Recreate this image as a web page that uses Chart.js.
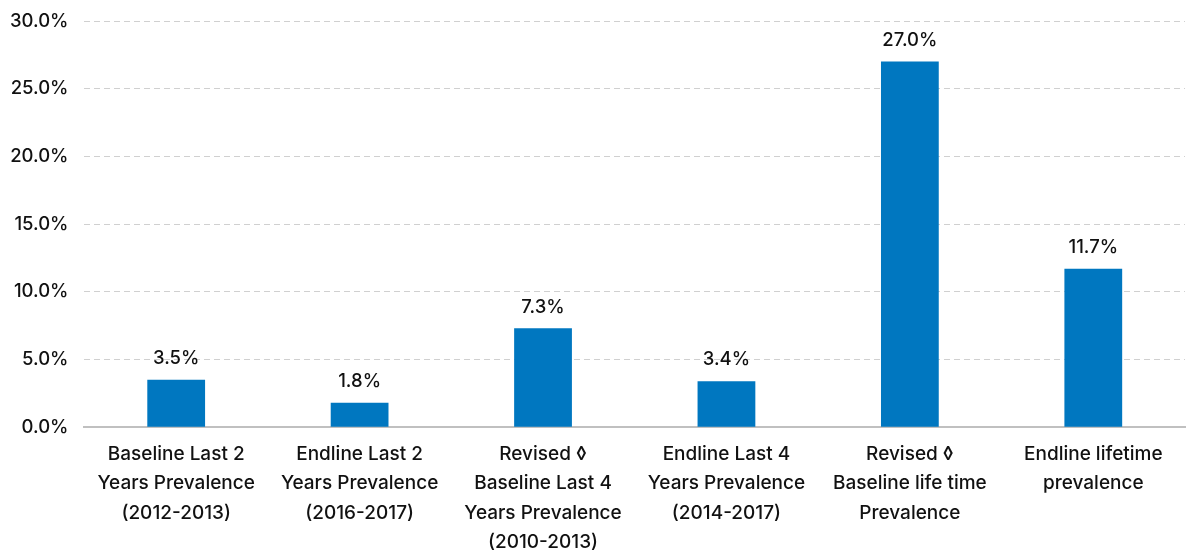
<!DOCTYPE html>
<html>
<head>
<meta charset="utf-8">
<script src="https://cdn.jsdelivr.net/npm/chart.js@4"></script>
<style>
  html, body { margin: 0; padding: 0; background: #fff; }
  #wrap { width: 1193px; height: 555px; }
</style>
</head>
<body>
<div id="wrap"><canvas id="chart"></canvas></div>
<script>
const categories = [
    ['Baseline Last 2', 'Years Prevalence', '(2012-2013)'],
    ['Endline Last 2', 'Years Prevalence', '(2016-2017)'],
    ['Revised \u25CA', 'Baseline Last 4', 'Years Prevalence', '(2010-2013)'],
    ['Endline Last 4', 'Years Prevalence', '(2014-2017)'],
    ['Revised \u25CA', 'Baseline life time', 'Prevalence'],
    ['Endline lifetime', 'prevalence']
];
const prevalence = [3.5, 1.8, 7.3, 3.4, 27.0, 11.7];
const yTicks = [0, 5, 10, 15, 20, 25, 30];

const FONT = 'Inter, "Open Sans", sans-serif';

// draws the value above each bar
const valueLabels = {
    id: 'valueLabels',
    afterDatasetsDraw(chart) {
        const ctx = chart.ctx;
        const meta = chart.getDatasetMeta(0);
        ctx.save();
        ctx.font = '500 18.5px ' + FONT;
        ctx.fillStyle = '#111';
        ctx.textAlign = 'center';
        ctx.textBaseline = 'bottom';
        meta.data.forEach((bar, i) => {
            ctx.fillText(prevalence[i].toFixed(1) + '%', bar.x, bar.y - 12);
        });
        ctx.restore();
    }
};

new Chart(document.getElementById('chart'), {
    type: 'bar',
    data: {
        labels: categories,
        datasets: [{
            data: prevalence,
            backgroundColor: '#0077C0',
            categoryPercentage: 0.315,
            barPercentage: 1
        }]
    },
    options: {
        responsive: true,
        maintainAspectRatio: false,
        animation: false,
        layout: { padding: { left: -6, right: 8, top: 0, bottom: -14 } },
        plugins: {
            legend: { display: false },
            tooltip: { enabled: false }
        },
        scales: {
            x: {
                grid: { display: false, drawTicks: false },
                border: { color: '#c0c0c0', width: 2 },
                ticks: {
                    color: '#111',
                    font: { family: FONT, size: 19, weight: 500, lineHeight: 1.55 },
                    maxRotation: 0,
                    autoSkip: false,
                    padding: 12
                }
            },
            y: {
                min: 0,
                max: 30,
                afterBuildTicks(axis) {
                    axis.ticks = yTicks.map(v => ({ value: v }));
                },
                afterFit(axis) {
                    axis.paddingTop = 21;
                },
                grid: {
                    color: '#d0d0d0',
                    drawTicks: false
                },
                border: { display: false, dash: [6, 4] },
                ticks: {
                    color: '#111',
                    font: { family: FONT, size: 18.5, weight: 500 },
                    padding: 16,
                    callback: v => v.toFixed(1) + '%'
                }
            }
        }
    },
    plugins: [valueLabels]
});
</script>
</body>
</html>
